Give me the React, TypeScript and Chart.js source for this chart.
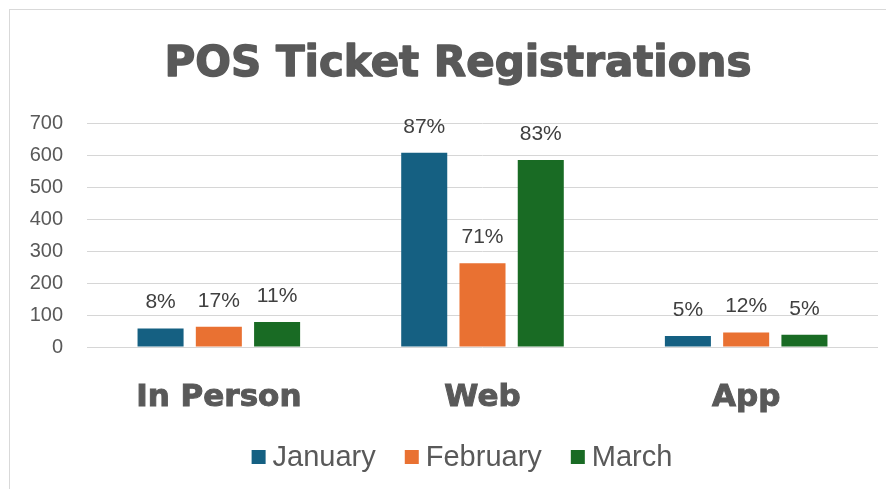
import React, { useEffect, useRef } from "react";
import { Chart, registerables } from "chart.js";

Chart.register(...registerables);

const TITLE = "POS Ticket Registrations";
const categories = ["In Person", "Web", "App"];
const seriesNames = ["January", "February", "March"];
const januaryValues = [58, 607, 34];
const februaryValues = [63, 262, 45];
const marchValues = [78, 584, 38];
const januaryLabels = ["8%", "87%", "5%"];
const februaryLabels = ["17%", "71%", "12%"];
const marchLabels = ["11%", "83%", "5%"];
const seriesColors = ["#156082", "#E97132", "#196B24"];
const Y_MAX = 700;
const Y_STEP = 100;

const TEXT = "#595959";
const LABEL_TEXT = "#404040";
const GRID = "#d6d6d6";

const overlayPlugin = {
  id: "overlay",
  afterDatasetsDraw(chart: any) {
    const ctx = chart.ctx;
    ctx.save();
    ctx.font = "21px 'Liberation Sans', Arial, sans-serif";
    ctx.fillStyle = LABEL_TEXT;
    ctx.textAlign = "center";
    ctx.textBaseline = "middle";
    chart.data.datasets.forEach((ds: any, di: number) => {
      const meta = chart.getDatasetMeta(di);
      meta.data.forEach((bar: any, i: number) => {
        ctx.fillText(ds.pctLabels[i], bar.x, bar.y - 26);
      });
    });
    ctx.restore();
  },
  afterDraw(chart: any) {
    const ctx = chart.ctx;
    const cx = 450;
    ctx.save();
    // title
    ctx.font = "bold 42px 'DejaVu Sans', sans-serif";
    ctx.fillStyle = TEXT;
    ctx.strokeStyle = TEXT;
    ctx.lineWidth = 1.4;
    ctx.lineJoin = "round";
    ctx.textAlign = "center";
    ctx.textBaseline = "middle";
    ctx.fillText(TITLE, cx - 2, 55);
    ctx.strokeText(TITLE, cx - 2, 55);
    // legend
    ctx.font = "29px 'Liberation Sans', Arial, sans-serif";
    const box = 14;
    const gapText = 7;
    const gapItem = 29;
    const items = chart.data.datasets.map((ds: any) => ({
      text: ds.label,
      color: ds.backgroundColor,
      w: box + gapText + ctx.measureText(ds.label).width,
    }));
    const total = items.reduce((s: number, it: any) => s + it.w, 0) + gapItem * (items.length - 1);
    let x = cx + 2 - total / 2;
    const y = 447;
    ctx.textAlign = "left";
    items.forEach((it: any) => {
      ctx.fillStyle = it.color;
      ctx.fillRect(x, y - box / 2, box, box);
      ctx.fillStyle = TEXT;
      ctx.fillText(it.text, x + box + gapText, y + 1);
      x += it.w + gapItem;
    });
    ctx.restore();
  },
};

export default function App() {
  const ref = useRef<HTMLCanvasElement | null>(null);
  useEffect(() => {
    if (!ref.current) return;
    const values = [januaryValues, februaryValues, marchValues];
    const labels = [januaryLabels, februaryLabels, marchLabels];
    const chart = new Chart(ref.current, {
      type: "bar",
      data: {
        labels: categories,
        datasets: seriesNames.map((name, i) => ({
          label: name,
          data: values[i],
          backgroundColor: seriesColors[i],
          borderWidth: 0,
          categoryPercentage: 0.663,
          barPercentage: 0.79,
          pctLabels: labels[i],
        })) as any,
      },
      options: {
        responsive: false,
        animation: false,
        devicePixelRatio: 1,
        layout: { padding: { top: 113, right: 16, left: 0, bottom: 72 } },
        plugins: {
          legend: { display: false },
          title: { display: false },
          tooltip: { enabled: false },
        },
        scales: {
          x: {
            grid: { display: false, drawTicks: false },
            border: { display: false },
            ticks: {
              color: TEXT,
              padding: 32,
              textStrokeColor: TEXT,
              textStrokeWidth: 1,
              font: { family: "'DejaVu Sans', sans-serif", size: 31, weight: "bold" },
            },
            afterFit: (s: any) => {
              s.height = 70;
            },
          },
          y: {
            min: 0,
            max: Y_MAX,
            grid: { color: GRID, lineWidth: 1, drawTicks: false },
            border: { display: false },
            ticks: {
              stepSize: Y_STEP,
              color: TEXT,
              padding: 24,
              font: { family: "'Liberation Sans', Arial, sans-serif", size: 20 },
            },
            afterFit: (s: any) => {
              s.width = 77;
            },
          },
        },
      },
      plugins: [overlayPlugin],
    });
    return () => chart.destroy();
  }, []);
  return (
    <div
      style={{
        marginLeft: 1,
        marginTop: 1,
        width: 885,
        height: 480,
        borderLeft: "1px solid #d9d9d9",
        borderTop: "1px solid #d9d9d9",
        background: "#fff",
        overflow: "hidden",
      }}
    >
      <canvas ref={ref} width={884} height={479} style={{ display: "block" }} />
    </div>
  );
}
